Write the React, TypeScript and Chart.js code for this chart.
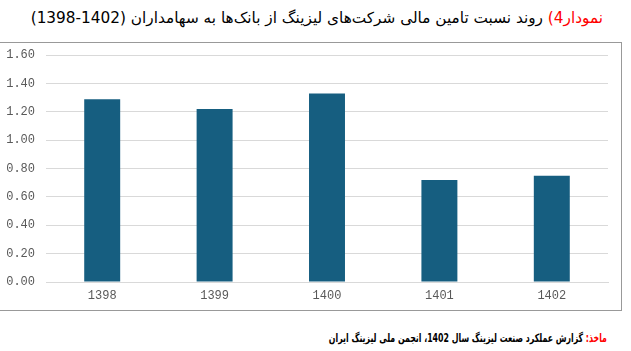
import React, { useEffect, useRef } from "react";
import { Chart, registerables } from "chart.js";

Chart.register(...registerables);

const categories = ["1398", "1399", "1400", "1401", "1402"];
const ratioValues = [1.29, 1.22, 1.33, 0.72, 0.75];
const yTickMax = 1.6;
const yTickStep = 0.2;

const titleRed = "نمودار4)";
const titleRest = " روند نسبت تامین مالی شرکت‌های لیزینگ از بانک‌ها به سهامداران (1402-1398)";
const sourceRed = "ماخذ:";
const sourceRest = " گزارش عملکرد صنعت لیزینگ سال 1402، انجمن ملی لیزینگ ایران";

export default function App() {
  const canvasRef = useRef<HTMLCanvasElement | null>(null);

  useEffect(() => {
    const canvas = canvasRef.current;
    if (!canvas) return;
    const chart = new Chart(canvas, {
      type: "bar",
      data: {
        labels: categories,
        datasets: [
          {
            data: ratioValues,
            backgroundColor: "#165E80",
            borderWidth: 0,
            barPercentage: 0.32,
            categoryPercentage: 1,
          },
        ],
      },
      options: {
        animation: false,
        responsive: false,
        maintainAspectRatio: false,
        layout: { padding: { top: 0, right: 15, bottom: 0, left: 0 } },
        plugins: { legend: { display: false }, tooltip: { enabled: false } },
        scales: {
          x: {
            grid: { display: false, drawTicks: false },
            border: { display: true, color: "#d9d9d9", width: 1 },
            ticks: {
              color: "#595959",
              font: { family: "'Liberation Mono', 'Courier New', monospace", size: 12 },
              padding: 7,
            },
            afterFit: (scale: any) => {
              scale.height = 28;
            },
          },
          y: {
            min: 0,
            max: yTickMax,
            grid: { color: "#d9d9d9", drawTicks: false, lineWidth: 1 },
            border: { display: false },
            ticks: {
              stepSize: yTickStep,
              color: "#595959",
              font: { family: "'Liberation Mono', 'Courier New', monospace", size: 12 },
              padding: 11,
              callback: (v: any) => Number(v).toFixed(2),
            },
            afterFit: (scale: any) => {
              scale.width = 46;
            },
          },
        },
      },
    });
    return () => chart.destroy();
  }, []);

  return (
    <div
      style={{
        position: "fixed",
        left: 0,
        top: 0,
        width: 631,
        height: 351,
        background: "#ffffff",
        overflow: "hidden",
      }}
    >
      <div
        dir="rtl"
        style={{
          position: "absolute",
          right: 28,
          top: 7,
          whiteSpace: "nowrap",
          fontFamily: "'DejaVu Sans', sans-serif",
          fontSize: 15.3,
          color: "#000000",
          lineHeight: "22px",
        }}
      >
        <span style={{ color: "#ff0000" }}>{titleRed}</span>
        <span>{titleRest}</span>
      </div>
      <div
        style={{
          position: "absolute",
          left: -1,
          top: 42,
          width: 623,
          height: 269,
          border: "1px solid #999999",
          boxSizing: "border-box",
        }}
      />
      <canvas
        ref={canvasRef}
        width={623}
        height={273}
        style={{ position: "absolute", left: 0, top: 37, width: 623, height: 273 }}
      />
      <div
        dir="rtl"
        style={{
          position: "absolute",
          right: 24,
          top: 329,
          whiteSpace: "nowrap",
          fontFamily: "'DejaVu Sans', sans-serif",
          fontSize: 11.5,
          fontWeight: "bold",
          color: "#000000",
          lineHeight: "18px",
          transform: "scaleX(0.68)",
          transformOrigin: "right center",
        }}
      >
        <span style={{ color: "#ff0000" }}>{sourceRed}</span>
        <span>{sourceRest}</span>
      </div>
    </div>
  );
}
